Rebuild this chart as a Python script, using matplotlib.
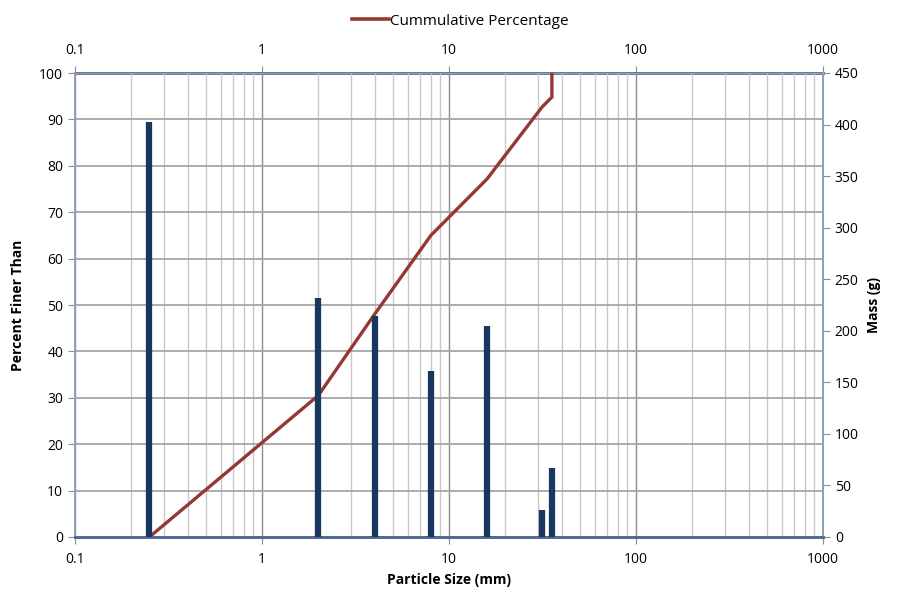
import numpy as np
import matplotlib.pyplot as plt
from matplotlib.ticker import FuncFormatter, FixedLocator, NullFormatter, MultipleLocator
from matplotlib.lines import Line2D

plt.rcParams['font.family'] = ['Open Sans', 'DejaVu Sans']

# sieve sizes (mm) and retained mass (g)
sieve_size = [0.25, 2, 4, 8, 16, 31.5, 35.5]
mass_g = [402, 232, 214, 161, 205, 26, 67]

# cumulative percentage curve
cum_size = [0.25, 2, 4, 8, 16, 31.5, 35.5, 35.5]
cum_pct = [0, 30.5, 48, 65, 77.2, 92.7, 94.8, 100]

x_major = [0.1, 1, 10, 100, 1000]
x_minor = [m * d for d in (0.1, 1, 10, 100) for m in range(2, 10)]

bar_col = '#17375E'
line_col = '#953735'
axis_col = '#4F6B96'
tick_col = '#8C8C8C'

fig = plt.figure(figsize=(9.03, 5.94), dpi=100)
ax = fig.add_axes([75 / 903, 57 / 594, 748 / 903, 464 / 594])

ax.set_xscale('log')
ax.set_xlim(0.1, 1000)
ax.set_ylim(0, 100)
ax.yaxis.set_major_locator(MultipleLocator(10))
ax.xaxis.set_major_locator(FixedLocator(x_major))
ax.xaxis.set_minor_locator(FixedLocator(x_minor))
ax.xaxis.set_major_formatter(FuncFormatter(lambda v, p: f'{v:g}'))
ax.xaxis.set_minor_formatter(NullFormatter())

ax.grid(axis='x', which='minor', color='#C8C8C8', lw=1.0)
ax.grid(axis='x', which='major', color='#8C8C8C', lw=1.0)
ax.grid(axis='y', which='major', color='#A6A6A6', lw=1.3)
ax.set_axisbelow(True)

ax.plot(cum_size, cum_pct, color=line_col, lw=2.4, solid_joinstyle='miter', zorder=3)

ax2 = ax.twinx()
ax2.set_ylim(0, 450)
ax2.yaxis.set_major_locator(MultipleLocator(50))
ax2.vlines(sieve_size, 0, mass_g, color=bar_col, lw=4.5, capstyle='butt', zorder=4)

top = ax.secondary_xaxis('top')
top.xaxis.set_major_locator(FixedLocator(x_major))
top.xaxis.set_minor_locator(FixedLocator(x_minor))
top.xaxis.set_major_formatter(FuncFormatter(lambda v, p: f'{v:g}'))
top.xaxis.set_minor_formatter(NullFormatter())
top.tick_params(which='major', direction='out', length=5, color=tick_col, labelsize=10, pad=6)
top.tick_params(which='minor', length=0)
top.spines['top'].set_color(axis_col)
top.spines['top'].set_linewidth(2)

for a in (ax, ax2):
    for s in ('left', 'right'):
        a.spines[s].set_color('#8FA0BA')
        a.spines[s].set_linewidth(1.3)
    a.spines['bottom'].set_color(axis_col)
    a.spines['bottom'].set_linewidth(2)
    a.spines['top'].set_visible(False)

ax.tick_params(axis='x', which='major', direction='out', length=5, color=tick_col, labelsize=10, pad=6)
ax.tick_params(axis='x', which='minor', length=0)
ax.tick_params(axis='y', direction='out', length=5, color=tick_col, labelsize=10)
ax2.tick_params(axis='y', direction='out', length=5, color=tick_col, labelsize=10)

ax.set_xlabel('Particle Size (mm)', fontsize=10, fontweight='bold', labelpad=4)
ax.set_ylabel('Percent Finer Than', fontsize=10, fontweight='bold', labelpad=10)
ax2.set_ylabel('Mass (g)', fontsize=10, fontweight='bold', labelpad=6)

handle = Line2D([], [], color=line_col, lw=2.6)
fig.legend([handle], ['Cummulative Percentage'], loc='upper center',
           bbox_to_anchor=(0.51, 1.0), frameon=False, fontsize=11,
           handlelength=2.4, handletextpad=0.1)

fig.savefig('out.png', dpi=100)
